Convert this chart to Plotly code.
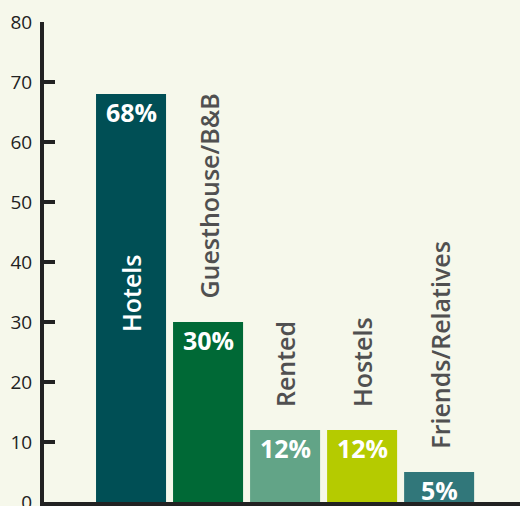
import plotly.graph_objects as go

categories = ["Hotels", "Guesthouse/B&B", "Rented", "Hostels", "Friends/Relatives"]
values = [68, 30, 12, 12, 5]
pct_labels = ["68%", "30%", "12%", "12%", "5%"]
colors = ["#004F55", "#006936", "#62A487", "#B5CB00", "#31777A"]
tick_vals = [0, 10, 20, 30, 40, 50, 60, 70, 80]

BG = "#F6F8EB"
FONT = "Open Sans"

fig = go.Figure()
fig.add_trace(go.Bar(
    x=categories, y=values, marker=dict(color=colors, line=dict(width=0)),
    width=0.909, hoverinfo="skip",
))

annotations = []
for i, (c, v, p) in enumerate(zip(categories, values, pct_labels)):
    annotations.append(dict(
        x=c, y=v, xref="x", yref="y", text=p, showarrow=False,
        yanchor="middle", yshift=-18, borderpad=0,
        font=dict(family=FONT, size=25, color="white", weight=700),
    ))
    if i == 0:
        annotations.append(dict(
            x=c, y=v / 2, xref="x", yref="y", text=c, showarrow=False,
            textangle=-90, yshift=4,
            font=dict(family=FONT, size=25, color="white", weight=600),
        ))
    else:
        annotations.append(dict(
            x=c, y=v, xref="x", yref="y", text=c, showarrow=False,
            textangle=-90, yanchor="bottom", yshift=21,
            font=dict(family=FONT, size=25, color="#505050", weight=600),
        ))

fig.update_layout(
    width=520, height=506,
    margin=dict(l=44, r=0, t=22, b=4, autoexpand=False),
    paper_bgcolor=BG, plot_bgcolor=BG,
    showlegend=False,
    annotations=annotations,
    xaxis=dict(
        type="category", range=[-1.13, 5.05], showticklabels=False,
        showgrid=False, zeroline=False, showline=True, linecolor="#222222",
        linewidth=4, ticks="", automargin=False,
    ),
    yaxis=dict(
        range=[0, 80], tickvals=tick_vals, showgrid=False, zeroline=False,
        showline=True, linecolor="#222222", linewidth=4,
        ticks="inside", ticklen=11, tickwidth=4, tickcolor="#222222",
        tickfont=dict(family=FONT, size=19, color="#222222"),
        ticklabelstandoff=4, ticklabeloverflow="allow", automargin=False,
    ),
)

fig.write_html(
    "out.html",
    config={"displayModeBar": False},
    post_script="document.body.style.margin='0';document.body.style.background='%s';" % BG,
)
